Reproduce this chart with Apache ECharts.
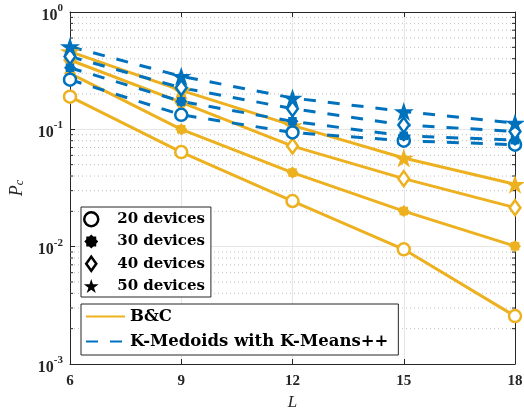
<!DOCTYPE html>
<html><head><meta charset="utf-8">
<script src="https://cdn.jsdelivr.net/npm/echarts@6/dist/echarts.min.js"></script>
<style>html,body{margin:0;padding:0;background:#fff}#c{width:524px;height:411px}</style>
</head><body><div id="c"></div>
<script>
// ---- data ----
const L = [6, 9, 12, 15, 18];
const bc20 = [0.19, 0.064, 0.0245, 0.0095, 0.00256];
const bc30 = [0.30, 0.10, 0.0428, 0.0201, 0.0101];
const bc40 = [0.39, 0.17, 0.072, 0.038, 0.0215];
const bc50 = [0.46, 0.215, 0.108, 0.057, 0.034];
const km20 = [0.265, 0.133, 0.094, 0.080, 0.074];
const km30 = [0.335, 0.173, 0.117, 0.088, 0.081];
const km40 = [0.417, 0.226, 0.150, 0.109, 0.096];
const km50 = [0.507, 0.283, 0.185, 0.142, 0.113];
const deviceLabels = ['20 devices', '30 devices', '40 devices', '50 devices'];
const methodLabels = ['B&C', 'K-Medoids with K-Means++'];
const xTicks = [6, 9, 12, 15, 18];
const minorY = [2e-3,3e-3,4e-3,5e-3,6e-3,7e-3,8e-3,9e-3,2e-2,3e-2,4e-2,5e-2,6e-2,7e-2,8e-2,9e-2,0.2,0.3,0.4,0.5,0.6,0.7,0.8,0.9];

// ---- styles ----
const ORANGE = '#EDB120', BLUE = '#0072BD';
const STAR = 'path://M0,-100L22.45,-30.9L95.1,-30.9L36.3,11.8L58.8,80.9L0,38.2L-58.8,80.9L-36.3,11.8L-95.1,-30.9L-22.45,-30.9Z';
const DIAMOND = 'path://M0,-100L72,0L0,100L-72,0Z';
function blobPath() {
  let d = '';
  for (let i = 0; i < 16; i++) {
    const a = i * Math.PI / 8;
    const r = (i % 2 === 0) ? 100 : 78;
    d += (i === 0 ? 'M' : 'L') + (r * Math.cos(a)).toFixed(2) + ',' + (r * Math.sin(a)).toFixed(2);
  }
  return 'path://' + d + 'Z';
}
const BLOB = blobPath();
const markers = [
  {symbol: 'circle', size: 12, hollow: true},
  {symbol: BLOB, size: 12, hollow: false},
  {symbol: DIAMOND, size: 15, hollow: true},
  {symbol: STAR, size: 20, hollow: false}
];
const serif = 'DejaVu Serif';
const tickFont = 'Liberation Serif';

function mk(vals, color, m, dashed) {
  return {
    type: 'line', xAxisIndex: 0, yAxisIndex: 0, z: 3,
    data: L.map((x, i) => [x, vals[i]]),
    symbol: m.symbol, symbolSize: m.size, symbolKeepAspect: true,
    showSymbol: true, silent: true, animation: false,
    lineStyle: {color: color, width: 3, type: dashed ? [12, 12] : 'solid'},
    itemStyle: m.hollow ? {color: '#fff', borderColor: color, borderWidth: 2.5} : {color: color, borderColor: color, borderWidth: 0}
  };
}

const series = [];
// minor grid + minor ticks
series.push({
  type: 'custom', xAxisIndex: 0, yAxisIndex: 0, z: 1, silent: true, animation: false,
  data: minorY.map(v => [xTicks[0], v]),
  renderItem: function (params, api) {
    const v = api.value(1);
    const p0 = api.coord([xTicks[0], v]);
    const p1 = api.coord([xTicks[xTicks.length - 1], v]);
    return {type: 'group', children: [
      {type: 'line', shape: {x1: p0[0], y1: p0[1], x2: p1[0], y2: p1[1]}, style: {stroke: '#bdbdbd', lineWidth: 1, lineDash: [1, 3]}},
      {type: 'line', shape: {x1: p0[0], y1: p0[1], x2: p0[0] + 3, y2: p0[1]}, style: {stroke: '#262626', lineWidth: 1}},
      {type: 'line', shape: {x1: p1[0] - 3, y1: p1[1], x2: p1[0], y2: p1[1]}, style: {stroke: '#262626', lineWidth: 1}}
    ]};
  }
});
const bcs = [bc20, bc30, bc40, bc50], kms = [km20, km30, km40, km50];
bcs.forEach((v, i) => series.push(mk(v, ORANGE, markers[i], false)));
kms.forEach((v, i) => series.push(mk(v, BLUE, markers[i], true)));
// legend-only series
deviceLabels.forEach((n, i) => series.push({name: n, type: 'line', data: [], symbol: markers[i].symbol, itemStyle: {color: '#000'}}));
series.push({name: methodLabels[0], type: 'line', data: [], symbol: 'none', lineStyle: {color: ORANGE, width: 3}, itemStyle: {color: ORANGE}});
series.push({name: methodLabels[1], type: 'line', data: [], symbol: 'none', lineStyle: {color: BLUE, width: 3, type: [12, 12]}, itemStyle: {color: BLUE}});

const axisCol = '#262626';

const option = {
  animation: false,
  backgroundColor: '#fff',
  grid: {left: 70, right: 9, top: 12, bottom: 47, containLabel: false, outerBoundsMode: 'none'},
  xAxis: [
    {type: 'value', min: 6, max: 18, interval: 3, position: 'bottom',
     name: 'L', nameLocation: 'middle', nameGap: 30,
     nameTextStyle: {fontFamily: tickFont, fontStyle: 'italic', fontSize: 17, color: axisCol},
     axisLine: {lineStyle: {color: axisCol, width: 1}},
     axisTick: {inside: true, length: 5, lineStyle: {color: axisCol}},
     axisLabel: {margin: 10, fontFamily: tickFont, fontWeight: 'bold', fontSize: 15, color: axisCol},
     splitLine: {show: true, lineStyle: {color: '#e6e6e6', width: 1}}},
    {type: 'value', min: 6, max: 18, interval: 3, position: 'top',
     axisLine: {show: true, lineStyle: {color: axisCol, width: 1}},
     axisTick: {show: true, inside: true, length: 5, lineStyle: {color: axisCol}},
     axisLabel: {show: false}, splitLine: {show: false}}
  ],
  yAxis: [
    {type: 'log', logBase: 10, min: 0.001, max: 1, position: 'left',
     name: '{i|P}{sub|c}', nameLocation: 'middle', nameGap: 44, nameRotate: 90,
     nameTextStyle: {rich: {
       i: {fontFamily: tickFont, fontStyle: 'italic', fontSize: 18, color: axisCol},
       sub: {fontFamily: tickFont, fontStyle: 'italic', fontSize: 12, color: axisCol, padding: [6, 0, 0, 0]}}},
     axisLine: {show: true, lineStyle: {color: axisCol, width: 1}},
     axisTick: {show: true, inside: true, length: 5, lineStyle: {color: axisCol}},
     axisLabel: {margin: 7, formatter: v => '{b|10}{s|' + Math.round(Math.log10(v)) + '}',
       rich: {
         b: {fontFamily: tickFont, fontWeight: 'bold', fontSize: 16, color: axisCol, padding: [7, 0, 0, 0]},
         s: {fontFamily: tickFont, fontWeight: 'bold', fontSize: 11, color: axisCol, padding: [0, 0, 8, 0]}}},
     splitLine: {show: true, lineStyle: {color: '#e6e6e6', width: 1}}},
    {type: 'log', logBase: 10, min: 0.001, max: 1, position: 'right',
     axisLine: {show: true, lineStyle: {color: axisCol, width: 1}},
     axisTick: {show: true, inside: true, length: 5, lineStyle: {color: axisCol}},
     axisLabel: {show: false}, splitLine: {show: false}}
  ],
  legend: [
    {orient: 'vertical', left: 81, top: 207, itemWidth: 42, itemHeight: 14, itemGap: 6,
     padding: [4, 6, 3, 2], borderColor: '#262626', borderWidth: 1, backgroundColor: '#fff',
     selectedMode: false,
     textStyle: {fontFamily: serif, fontWeight: 'bold', fontSize: 15, color: '#000', lineHeight: 16},
     data: deviceLabels.map((n, i) => ({name: n, icon: markers[i].symbol,
        itemStyle: markers[i].hollow ? {color: '#fff', borderColor: '#000', borderWidth: 2.5} : {color: '#000', borderWidth: 0}}))},
    {orient: 'vertical', left: 81, top: 304, itemWidth: 39, itemHeight: 14, itemGap: 8,
     padding: [4, 10, 5, 4], borderColor: '#262626', borderWidth: 1, backgroundColor: '#fff',
     selectedMode: false,
     textStyle: {fontFamily: serif, fontWeight: 'bold', fontSize: 16.5, color: '#000', lineHeight: 16},
     data: methodLabels.map(n => ({name: n, itemStyle: {color: 'rgba(0,0,0,0)', borderWidth: 0, opacity: 0}}))}
  ],
  series: series
};
const chart = echarts.init(document.getElementById('c'), null, {renderer: 'canvas'});
chart.setOption(option);
</script></body></html>
